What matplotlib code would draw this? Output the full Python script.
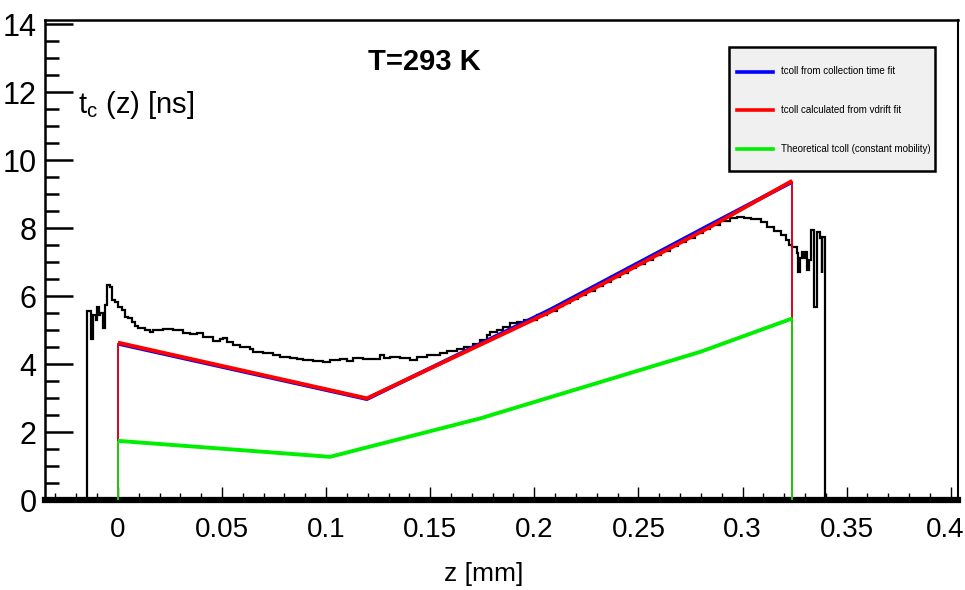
"""
Collection time t_c(z) vs depth z at T=293 K.
"""
import matplotlib
matplotlib.use('Agg')
import matplotlib.pyplot as plt
import matplotlib.transforms as mtransforms
from matplotlib.lines import Line2D
from matplotlib.patches import Rectangle
from matplotlib.ticker import MultipleLocator, FuncFormatter

# measured t_c(z) histogram (bin edges in mm, contents in ns)
black_edges = [-0.0148, -0.0130, -0.0120, -0.0106, -0.0099, -0.0091, -0.0084, -0.0072, -0.0063, -0.0051,
               -0.0039, -0.0030, -0.0014, 0.0001, 0.0018, 0.0034, 0.0050, 0.0066, 0.0082, 0.0098,
               0.0130, 0.0154, 0.0170, 0.0218, 0.0266, 0.0314, 0.0346, 0.0378, 0.0410, 0.0458,
               0.0490, 0.0506, 0.0523, 0.0554, 0.0587, 0.0635, 0.0651, 0.0699, 0.0747, 0.0779,
               0.0827, 0.0859, 0.0891, 0.0939, 0.0987, 0.1019, 0.1067, 0.1100, 0.1131, 0.1179,
               0.1260, 0.1276, 0.1308, 0.1356, 0.1404, 0.1436, 0.1484, 0.1548, 0.1580, 0.1628,
               0.1660, 0.1708, 0.1740, 0.1773, 0.1789, 0.1821, 0.1852, 0.1885, 0.1917, 0.1949,
               0.2013, 0.2061, 0.2109, 0.2140, 0.2173, 0.2210, 0.2250, 0.2290, 0.2330, 0.2370,
               0.2410, 0.2450, 0.2490, 0.2530, 0.2570, 0.2610, 0.2650, 0.2690, 0.2730, 0.2770,
               0.2810, 0.2846, 0.2894,
               0.2942, 0.2975, 0.3006, 0.3039, 0.3087, 0.3119, 0.3151, 0.3183, 0.3207, 0.3223,
               0.3239, 0.3263, 0.3266, 0.3276, 0.3287, 0.3295, 0.3303, 0.3311, 0.3319, 0.3330,
               0.3343, 0.3356, 0.3370, 0.3380, 0.3383, 0.3394]
black_t = [5.56, 4.74, 5.44, 5.29, 5.68, 5.44, 5.50, 5.06, 5.74, 6.32,
           6.26, 5.88, 5.82, 5.68, 5.59, 5.38, 5.35, 5.24, 5.12, 5.06,
           5.00, 4.94, 5.00, 5.03, 5.00, 4.91, 4.88, 4.91, 4.79, 4.68,
           4.74, 4.76, 4.65, 4.56, 4.50, 4.44, 4.36, 4.32, 4.26, 4.21,
           4.18, 4.15, 4.12, 4.09, 4.07, 4.12, 4.14, 4.10, 4.17, 4.14,
           4.26, 4.18, 4.20, 4.17, 4.12, 4.21, 4.26, 4.31, 4.38, 4.43,
           4.49, 4.59, 4.71, 4.85, 4.95, 5.00, 5.10, 5.20, 5.24, 5.29,
           5.44, 5.57, 5.72, 5.80, 5.92, 6.03, 6.16, 6.29, 6.42, 6.55,
           6.68, 6.81, 6.94, 7.07, 7.20, 7.33, 7.46, 7.59, 7.72, 7.85,
           7.97, 8.10, 8.22,
           8.30, 8.33, 8.29, 8.26, 8.19, 8.04, 7.92, 7.79, 7.65, 7.50,
           7.43, 7.26, 6.71, 7.11, 7.30, 7.12, 7.30, 6.76, 7.06, 7.94,
           5.69, 7.89, 7.70, 6.68, 7.74]

# tcoll from collection time fit
blue_z = [0.0, 0.1196, 0.2077, 0.2846, 0.3239]
blue_t = [4.60, 2.97, 5.60, 8.10, 9.36]

# tcoll calculated from vdrift fit
red_z = [0.0, 0.1196, 0.2077, 0.2846, 0.3239]
red_t = [4.63, 2.99, 5.54, 8.04, 9.39]

# theoretical tcoll (constant mobility)
green_z = [0.0, 0.1019, 0.1740, 0.2798, 0.3239]
green_t = [1.74, 1.27, 2.40, 4.36, 5.34]

legend_labels = ['tcoll from collection time fit',
                 'tcoll calculated from vdrift fit',
                 'Theoretical tcoll (constant mobility)']
colors = ['#0000ff', '#ff0000', '#00ee00']

plt.rcParams['font.family'] = ['Liberation Sans', 'DejaVu Sans']

fig = plt.figure(figsize=(9.65, 5.9), dpi=100)
ax = fig.add_axes([45 / 965, 90 / 590, 913 / 965, 480 / 590])

ax.stairs(black_t, black_edges, baseline=0, color='black', lw=1.6, zorder=2)

for z, t, col in zip([blue_z, red_z, green_z], [blue_t, red_t, green_t], colors):
    ax.plot(z, t, color=col, lw=2.8, solid_capstyle='butt', zorder=3)
    ax.vlines([z[0], z[-1]], 0, [t[0], t[-1]], color=col, lw=1.2, zorder=3)

ax.set_xlim(-0.035, 0.4035)
ax.set_ylim(0, 14.12)

# ROOT style axes
ax.xaxis.set_major_locator(MultipleLocator(0.05))
ax.xaxis.set_minor_locator(MultipleLocator(0.01))
ax.yaxis.set_major_locator(MultipleLocator(2))
ax.yaxis.set_minor_locator(MultipleLocator(0.5))
ax.tick_params(axis='x', which='major', direction='in', length=9.5, width=1.0, pad=12,
               labelsize=20)
ax.tick_params(axis='x', which='minor', direction='in', length=5, width=1.0)
ax.tick_params(axis='y', which='major', direction='in', length=20, width=1.8, pad=6,
               labelsize=22)
ax.tick_params(axis='y', which='minor', direction='in', length=10, width=1.8)
ax.tick_params(top=False, right=False, which='both')
ax.xaxis.set_major_formatter(FuncFormatter(lambda v, p: '%g' % round(v, 3)))

ax.spines['bottom'].set_linewidth(4.5)
ax.spines['left'].set_linewidth(1.8)
ax.spines['top'].set_linewidth(1.8)
ax.spines['right'].set_linewidth(1.5)

ax.set_xlabel('z [mm]', fontsize=19)
ax.xaxis.set_label_coords(0.48, -0.155)
ax.xaxis.label.set_va('center')

fig.text(78 / 965, 1 - 105 / 590, r't$_{\mathregular{c}}$ (z) [ns]', fontsize=21,
         va='center', ha='left')
fig.text(424 / 965, 1 - 62 / 590, 'T=293 K', fontsize=21, fontweight='bold',
         ha='center', va='center')

# legend box drawn like the ROOT TLegend
fig.add_artist(Rectangle((729 / 965, 1 - 171 / 590), 206 / 965, 124 / 590,
                         transform=fig.transFigure, facecolor='#f0f0f0',
                         edgecolor='black', lw=1.8, zorder=5))
rows = [71.5, 110, 148.5]
for py, lab, col in zip(rows, legend_labels, colors):
    fig.add_artist(Line2D([737 / 965, 773 / 965], [1 - py / 590] * 2, color=col, lw=2.6,
                          transform=fig.transFigure, zorder=6))
    fig.text(781 / 965, 1 - py / 590, lab, fontsize=7, va='center', ha='left', zorder=6)

# nudge the last x label ("0.4") so it stays inside the canvas
fig.canvas.draw()
for tick in ax.xaxis.get_major_ticks():
    if abs(tick.get_loc() - 0.4) < 1e-6:
        shift = mtransforms.ScaledTranslation(-6 / 100, 0, fig.dpi_scale_trans)
        tick.label1.set_transform(tick.label1.get_transform() + shift)

fig.savefig('out.png', dpi=100)
